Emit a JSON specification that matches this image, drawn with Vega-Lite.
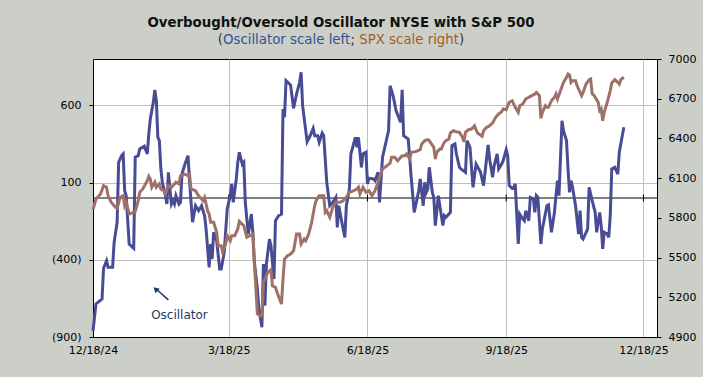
{
  "$schema": "https://vega.github.io/schema/vega-lite/v6.json",
  "width": 564,
  "height": 278,
  "autosize": {"type": "none"},
  "padding": {"left": 93, "top": 59, "right": 46, "bottom": 40},
  "background": "#cbcfc8",
  "config": {
    "font": "DejaVu Sans",
    "view": {"stroke": "#000000", "strokeWidth": 1, "fill": "#ffffff"},
    "axis": {"labelFont": "DejaVu Sans", "labelColor": "#000000", "labelFontSize": 11, "domainColor": "#000000", "tickColor": "#000000", "gridColor": "#c0c0c0", "gridWidth": 1, "title": null}
  },
  "datasets": {
    "zt": [{"date": "2025-03-18"}, {"date": "2025-06-18"}, {"date": "2025-09-18"}, {"date": "2025-12-18"}],
    "osc": [
      {"date":"2024-12-18","value":-860},{"date":"2024-12-20","value":-686},{"date":"2024-12-24","value":-654},{"date":"2024-12-25","value":-455},{"date":"2024-12-27","value":-406},{"date":"2024-12-28","value":-449},{"date":"2024-12-31","value":-449},
      {"date":"2025-01-01","value":-287},{"date":"2025-01-03","value":-157},{"date":"2025-01-04","value":231},{"date":"2025-01-06","value":274},{"date":"2025-01-07","value":285},{"date":"2025-01-08","value":47},{"date":"2025-01-09","value":15},{"date":"2025-01-11","value":-298},{"date":"2025-01-14","value":-326},{"date":"2025-01-15","value":264},{"date":"2025-01-17","value":274},{"date":"2025-01-18","value":317},{"date":"2025-01-21","value":335},{"date":"2025-01-23","value":285},{"date":"2025-01-24","value":414},{"date":"2025-01-25","value":511},{"date":"2025-01-27","value":620},{"date":"2025-01-28","value":699},{"date":"2025-01-29","value":630},{"date":"2025-01-30","value":393},{"date":"2025-01-31","value":371},
      {"date":"2025-02-01","value":188},{"date":"2025-02-02","value":102},{"date":"2025-02-04","value":15},{"date":"2025-02-05","value":-39},{"date":"2025-02-06","value":166},{"date":"2025-02-07","value":58},{"date":"2025-02-08","value":-39},{"date":"2025-02-09","value":-17},{"date":"2025-02-10","value":-39},{"date":"2025-02-11","value":15},{"date":"2025-02-13","value":-39},{"date":"2025-02-14","value":-28},{"date":"2025-02-15","value":155},{"date":"2025-02-17","value":220},{"date":"2025-02-19","value":274},{"date":"2025-02-20","value":112},{"date":"2025-02-22","value":-157},{"date":"2025-02-24","value":-50},{"date":"2025-02-26","value":-82},{"date":"2025-02-28","value":-50},
      {"date":"2025-03-02","value":-115},{"date":"2025-03-03","value":-201},{"date":"2025-03-05","value":-449},{"date":"2025-03-06","value":-298},{"date":"2025-03-07","value":-395},{"date":"2025-03-08","value":-222},{"date":"2025-03-10","value":-276},{"date":"2025-03-12","value":-460},{"date":"2025-03-13","value":-460},{"date":"2025-03-15","value":-352},{"date":"2025-03-17","value":-71},{"date":"2025-03-19","value":15},{"date":"2025-03-20","value":91},{"date":"2025-03-21","value":-28},{"date":"2025-03-23","value":123},{"date":"2025-03-24","value":231},{"date":"2025-03-25","value":296},{"date":"2025-03-27","value":220},{"date":"2025-03-28","value":231},{"date":"2025-03-29","value":-28},{"date":"2025-03-30","value":-136},{"date":"2025-03-31","value":-233},
      {"date":"2025-04-02","value":-104},{"date":"2025-04-03","value":-222},{"date":"2025-04-04","value":-416},{"date":"2025-04-06","value":-589},{"date":"2025-04-07","value":-719},{"date":"2025-04-09","value":-837},{"date":"2025-04-10","value":-427},{"date":"2025-04-11","value":-697},{"date":"2025-04-12","value":-427},{"date":"2025-04-14","value":-266},{"date":"2025-04-15","value":-309},{"date":"2025-04-17","value":-525},{"date":"2025-04-18","value":-147},{"date":"2025-04-20","value":-115},{"date":"2025-04-22","value":-104},{"date":"2025-04-23","value":576},{"date":"2025-04-24","value":523},{"date":"2025-04-25","value":760},{"date":"2025-04-28","value":732},{"date":"2025-04-30","value":581},
      {"date":"2025-05-02","value":673},{"date":"2025-05-04","value":749},{"date":"2025-05-05","value":814},{"date":"2025-05-06","value":598},{"date":"2025-05-09","value":365},{"date":"2025-05-11","value":403},{"date":"2025-05-13","value":451},{"date":"2025-05-14","value":403},{"date":"2025-05-16","value":403},{"date":"2025-05-17","value":361},{"date":"2025-05-19","value":421},{"date":"2025-05-20","value":403},{"date":"2025-05-22","value":102},{"date":"2025-05-24","value":-50},{"date":"2025-05-26","value":-28},{"date":"2025-05-28","value":4},{"date":"2025-05-29","value":-190},{"date":"2025-05-30","value":-50},
      {"date":"2025-06-01","value":-157},{"date":"2025-06-03","value":-255},{"date":"2025-06-04","value":-50},{"date":"2025-06-06","value":58},{"date":"2025-06-07","value":285},{"date":"2025-06-10","value":393},{"date":"2025-06-11","value":328},{"date":"2025-06-12","value":393},{"date":"2025-06-14","value":199},{"date":"2025-06-15","value":285},{"date":"2025-06-17","value":296},{"date":"2025-06-18","value":91},{"date":"2025-06-19","value":128},{"date":"2025-06-22","value":123},{"date":"2025-06-23","value":112},{"date":"2025-06-25","value":166},{"date":"2025-06-26","value":-28},{"date":"2025-06-28","value":264},
      {"date":"2025-07-02","value":436},{"date":"2025-07-03","value":727},{"date":"2025-07-05","value":662},{"date":"2025-07-07","value":565},{"date":"2025-07-10","value":490},{"date":"2025-07-11","value":701},{"date":"2025-07-12","value":403},{"date":"2025-07-15","value":382},{"date":"2025-07-16","value":264},{"date":"2025-07-17","value":134},{"date":"2025-07-19","value":-93},{"date":"2025-07-22","value":47},{"date":"2025-07-23","value":123},{"date":"2025-07-25","value":-50},{"date":"2025-07-26","value":102},{"date":"2025-07-27","value":37},{"date":"2025-07-28","value":58},{"date":"2025-07-29","value":199},{"date":"2025-07-31","value":37},
      {"date":"2025-08-01","value":4},{"date":"2025-08-02","value":-179},{"date":"2025-08-04","value":15},{"date":"2025-08-07","value":-179},{"date":"2025-08-08","value":-115},{"date":"2025-08-09","value":-125},{"date":"2025-08-12","value":-93},{"date":"2025-08-13","value":339},{"date":"2025-08-15","value":350},{"date":"2025-08-16","value":285},{"date":"2025-08-18","value":199},{"date":"2025-08-19","value":188},{"date":"2025-08-22","value":166},{"date":"2025-08-23","value":371},{"date":"2025-08-25","value":328},{"date":"2025-08-27","value":69},{"date":"2025-08-29","value":220},
      {"date":"2025-09-01","value":166},{"date":"2025-09-03","value":80},{"date":"2025-09-06","value":343},{"date":"2025-09-07","value":253},{"date":"2025-09-09","value":134},{"date":"2025-09-10","value":209},{"date":"2025-09-12","value":285},{"date":"2025-09-13","value":188},{"date":"2025-09-15","value":220},{"date":"2025-09-16","value":242},{"date":"2025-09-18","value":313},{"date":"2025-09-19","value":274},{"date":"2025-09-20","value":80},{"date":"2025-09-22","value":63},{"date":"2025-09-23","value":69},{"date":"2025-09-24","value":91},{"date":"2025-09-26","value":-298},{"date":"2025-09-27","value":-104},{"date":"2025-09-29","value":-136},{"date":"2025-09-30","value":-147},
      {"date":"2025-10-01","value":-82},{"date":"2025-10-03","value":-147},{"date":"2025-10-04","value":4},{"date":"2025-10-06","value":-6},{"date":"2025-10-07","value":-93},{"date":"2025-10-08","value":15},{"date":"2025-10-09","value":4},{"date":"2025-10-11","value":-298},{"date":"2025-10-12","value":-201},{"date":"2025-10-15","value":-50},{"date":"2025-10-16","value":-45},{"date":"2025-10-18","value":-222},{"date":"2025-10-20","value":-93},{"date":"2025-10-21","value":15},{"date":"2025-10-22","value":112},{"date":"2025-10-23","value":15},{"date":"2025-10-25","value":500},{"date":"2025-10-26","value":436},{"date":"2025-10-28","value":371},{"date":"2025-10-29","value":188},{"date":"2025-10-30","value":37},{"date":"2025-10-31","value":112},
      {"date":"2025-11-01","value":69},{"date":"2025-11-03","value":-50},{"date":"2025-11-05","value":-233},{"date":"2025-11-06","value":-82},{"date":"2025-11-07","value":-255},{"date":"2025-11-08","value":-266},{"date":"2025-11-10","value":-222},{"date":"2025-11-11","value":-201},{"date":"2025-11-12","value":69},{"date":"2025-11-14","value":-17},{"date":"2025-11-16","value":-93},{"date":"2025-11-17","value":-222},{"date":"2025-11-19","value":-93},{"date":"2025-11-20","value":-179},{"date":"2025-11-21","value":-330},{"date":"2025-11-22","value":-222},{"date":"2025-11-24","value":-233},{"date":"2025-11-25","value":-255},{"date":"2025-11-26","value":-115},{"date":"2025-11-27","value":188},{"date":"2025-11-29","value":199},
      {"date":"2025-12-01","value":155},{"date":"2025-12-02","value":296},{"date":"2025-12-05","value":458}
    ],
    "spx": [
      {"date":"2024-12-18","value":5862},{"date":"2024-12-20","value":5942},{"date":"2024-12-23","value":5980},{"date":"2024-12-25","value":6043},{"date":"2024-12-27","value":6031},{"date":"2024-12-28","value":5967},{"date":"2024-12-30","value":5918},
      {"date":"2025-01-02","value":5880},{"date":"2025-01-03","value":5872},{"date":"2025-01-05","value":5955},{"date":"2025-01-07","value":5967},{"date":"2025-01-08","value":5892},{"date":"2025-01-09","value":5918},{"date":"2025-01-11","value":5829},{"date":"2025-01-14","value":5842},{"date":"2025-01-15","value":5847},{"date":"2025-01-17","value":5930},{"date":"2025-01-18","value":5993},{"date":"2025-01-20","value":6018},{"date":"2025-01-23","value":6081},{"date":"2025-01-24","value":6114},{"date":"2025-01-25","value":6094},{"date":"2025-01-26","value":6031},{"date":"2025-01-28","value":6069},{"date":"2025-01-29","value":6031},{"date":"2025-01-31","value":6056},
      {"date":"2025-02-01","value":6018},{"date":"2025-02-03","value":6005},{"date":"2025-02-04","value":5980},{"date":"2025-02-06","value":6043},{"date":"2025-02-08","value":6031},{"date":"2025-02-10","value":6056},{"date":"2025-02-11","value":6069},{"date":"2025-02-13","value":6056},{"date":"2025-02-14","value":6118},{"date":"2025-02-17","value":6131},{"date":"2025-02-19","value":6118},{"date":"2025-02-20","value":6131},{"date":"2025-02-21","value":6018},{"date":"2025-02-24","value":6005},{"date":"2025-02-26","value":5967},{"date":"2025-02-28","value":5942},
      {"date":"2025-03-01","value":5930},{"date":"2025-03-02","value":5955},{"date":"2025-03-04","value":5854},{"date":"2025-03-05","value":5829},{"date":"2025-03-06","value":5766},{"date":"2025-03-08","value":5766},{"date":"2025-03-10","value":5691},{"date":"2025-03-11","value":5590},{"date":"2025-03-13","value":5590},{"date":"2025-03-14","value":5540},{"date":"2025-03-16","value":5603},{"date":"2025-03-17","value":5665},{"date":"2025-03-19","value":5627},{"date":"2025-03-20","value":5665},{"date":"2025-03-22","value":5665},{"date":"2025-03-24","value":5716},{"date":"2025-03-25","value":5774},{"date":"2025-03-28","value":5741},{"date":"2025-03-30","value":5653},
      {"date":"2025-04-01","value":5665},{"date":"2025-04-03","value":5678},{"date":"2025-04-04","value":5464},{"date":"2025-04-06","value":5074},{"date":"2025-04-08","value":5061},{"date":"2025-04-09","value":5061},{"date":"2025-04-10","value":5313},{"date":"2025-04-12","value":5363},{"date":"2025-04-13","value":5389},{"date":"2025-04-15","value":5408},{"date":"2025-04-16","value":5287},{"date":"2025-04-18","value":5275},{"date":"2025-04-19","value":5238},{"date":"2025-04-22","value":5149},{"date":"2025-04-23","value":5338},{"date":"2025-04-24","value":5489},{"date":"2025-04-26","value":5514},{"date":"2025-04-28","value":5527},{"date":"2025-04-30","value":5552},
      {"date":"2025-05-02","value":5678},{"date":"2025-05-04","value":5678},{"date":"2025-05-05","value":5603},{"date":"2025-05-07","value":5640},{"date":"2025-05-08","value":5627},{"date":"2025-05-10","value":5678},{"date":"2025-05-12","value":5766},{"date":"2025-05-14","value":5892},{"date":"2025-05-15","value":5930},{"date":"2025-05-17","value":5967},{"date":"2025-05-20","value":5967},{"date":"2025-05-21","value":5842},{"date":"2025-05-22","value":5854},{"date":"2025-05-24","value":5804},{"date":"2025-05-26","value":5880},{"date":"2025-05-28","value":5918},{"date":"2025-05-31","value":5918},
      {"date":"2025-06-02","value":5930},{"date":"2025-06-04","value":5955},{"date":"2025-06-06","value":5993},{"date":"2025-06-09","value":6005},{"date":"2025-06-11","value":6018},{"date":"2025-06-12","value":6031},{"date":"2025-06-13","value":5980},{"date":"2025-06-15","value":6031},{"date":"2025-06-17","value":5993},{"date":"2025-06-19","value":6005},{"date":"2025-06-21","value":5967},{"date":"2025-06-23","value":6005},{"date":"2025-06-25","value":6069},{"date":"2025-06-27","value":6144},{"date":"2025-06-28","value":6169},
      {"date":"2025-07-01","value":6194},{"date":"2025-07-03","value":6214},{"date":"2025-07-04","value":6257},{"date":"2025-07-06","value":6257},{"date":"2025-07-08","value":6232},{"date":"2025-07-11","value":6270},{"date":"2025-07-13","value":6270},{"date":"2025-07-14","value":6282},{"date":"2025-07-16","value":6245},{"date":"2025-07-17","value":6295},{"date":"2025-07-20","value":6300},{"date":"2025-07-23","value":6315},{"date":"2025-07-24","value":6358},{"date":"2025-07-26","value":6383},{"date":"2025-07-28","value":6390},{"date":"2025-07-29","value":6383},
      {"date":"2025-08-01","value":6333},{"date":"2025-08-02","value":6245},{"date":"2025-08-03","value":6295},{"date":"2025-08-05","value":6320},{"date":"2025-08-06","value":6320},{"date":"2025-08-07","value":6350},{"date":"2025-08-08","value":6371},{"date":"2025-08-09","value":6383},{"date":"2025-08-11","value":6396},{"date":"2025-08-12","value":6441},{"date":"2025-08-14","value":6458},{"date":"2025-08-16","value":6451},{"date":"2025-08-18","value":6446},{"date":"2025-08-20","value":6409},{"date":"2025-08-21","value":6375},{"date":"2025-08-22","value":6446},{"date":"2025-08-24","value":6466},{"date":"2025-08-26","value":6471},{"date":"2025-08-28","value":6496},{"date":"2025-08-29","value":6466},{"date":"2025-08-30","value":6441},
      {"date":"2025-09-02","value":6416},{"date":"2025-09-03","value":6458},{"date":"2025-09-05","value":6484},{"date":"2025-09-07","value":6496},{"date":"2025-09-09","value":6517},{"date":"2025-09-11","value":6560},{"date":"2025-09-13","value":6585},{"date":"2025-09-15","value":6602},{"date":"2025-09-16","value":6622},{"date":"2025-09-18","value":6617},{"date":"2025-09-19","value":6647},{"date":"2025-09-20","value":6673},{"date":"2025-09-22","value":6685},{"date":"2025-09-24","value":6635},{"date":"2025-09-26","value":6597},{"date":"2025-09-27","value":6647},{"date":"2025-09-29","value":6660},
      {"date":"2025-10-01","value":6698},{"date":"2025-10-03","value":6711},{"date":"2025-10-05","value":6723},{"date":"2025-10-07","value":6736},{"date":"2025-10-08","value":6748},{"date":"2025-10-10","value":6723},{"date":"2025-10-11","value":6552},{"date":"2025-10-12","value":6597},{"date":"2025-10-14","value":6647},{"date":"2025-10-15","value":6635},{"date":"2025-10-16","value":6635},{"date":"2025-10-18","value":6685},{"date":"2025-10-20","value":6711},{"date":"2025-10-21","value":6736},{"date":"2025-10-22","value":6698},{"date":"2025-10-24","value":6761},{"date":"2025-10-26","value":6824},{"date":"2025-10-28","value":6862},{"date":"2025-10-29","value":6887},{"date":"2025-10-30","value":6879},{"date":"2025-10-31","value":6824},
      {"date":"2025-11-01","value":6836},{"date":"2025-11-03","value":6836},{"date":"2025-11-04","value":6798},{"date":"2025-11-05","value":6773},{"date":"2025-11-07","value":6723},{"date":"2025-11-08","value":6748},{"date":"2025-11-10","value":6811},{"date":"2025-11-12","value":6844},{"date":"2025-11-13","value":6849},{"date":"2025-11-14","value":6736},{"date":"2025-11-15","value":6728},{"date":"2025-11-16","value":6711},{"date":"2025-11-18","value":6673},{"date":"2025-11-19","value":6609},{"date":"2025-11-20","value":6622},{"date":"2025-11-21","value":6534},{"date":"2025-11-22","value":6597},{"date":"2025-11-24","value":6673},{"date":"2025-11-26","value":6761},{"date":"2025-11-27","value":6819},{"date":"2025-11-29","value":6844},
      {"date":"2025-12-01","value":6824},{"date":"2025-12-02","value":6811},{"date":"2025-12-03","value":6844},{"date":"2025-12-05","value":6862}
    ]
  },
  "layer": [
    {
      "layer": [
        {
          "data": {"values": [{}]},
          "mark": {"type": "rule", "color": "#000000", "strokeWidth": 1},
          "encoding": {"y": {"datum": 0}}
        },
        {
          "data": {"name": "zt"},
          "mark": {"type": "rule", "color": "#000000", "strokeWidth": 1},
          "encoding": {"x": {"field": "date", "type": "temporal"}, "y": {"datum": -23}, "y2": {"datum": 23}}
        },
        {
          "data": {"name": "osc"},
          "mark": {"type": "line", "color": "#484c94", "strokeWidth": 3},
          "encoding": {
            "x": {
              "field": "date", "type": "temporal",
              "scale": {"domain": [{"year": 2024, "month": 12, "date": 18}, {"year": 2025, "month": 12, "date": 27}], "nice": false},
              "axis": {
                "values": [{"year": 2024, "month": 12, "date": 18}, {"year": 2025, "month": 3, "date": 18}, {"year": 2025, "month": 6, "date": 18}, {"year": 2025, "month": 9, "date": 18}, {"year": 2025, "month": 12, "date": 18}],
                "format": "%-m/%d/%y", "ticks": false, "labelPadding": 7, "grid": true, "title": null, "labelFlush": false, "labelOverlap": false
              }
            },
            "y": {
              "field": "value", "type": "quantitative",
              "scale": {"domain": [-900, 900], "nice": false, "zero": false},
              "axis": {
                "orient": "left", "values": [-900, -400, 100, 600],
                "labelExpr": "datum.value < 0 ? '(' + format(-datum.value, 'd') + ')' : format(datum.value, 'd')",
                "tickSize": 4, "labelPadding": 8, "grid": true, "title": null
              }
            }
          }
        },
        {
          "data": {"values": [{}]},
          "mark": {"type": "rule", "color": "#1f3864", "strokeWidth": 1.5},
          "encoding": {
            "x": {"datum": {"year": 2025, "month": 2, "date": 6}},
            "y": {"datum": -660},
            "x2": {"datum": {"year": 2025, "month": 1, "date": 28, "hours": 6}},
            "y2": {"datum": -584}
          }
        },
        {
          "data": {"values": [{}]},
          "mark": {"type": "point", "shape": "triangle-up", "filled": true, "color": "#1f3864", "size": 40, "angle": 313, "opacity": 1},
          "encoding": {
            "x": {"datum": {"year": 2025, "month": 1, "date": 28, "hours": 12}},
            "y": {"datum": -590}
          }
        },
        {
          "data": {"values": [{}]},
          "mark": {"type": "text", "text": "Oscillator", "font": "DejaVu Sans", "fontSize": 12, "color": "#1f3864", "align": "center", "baseline": "middle"},
          "encoding": {"x": {"datum": {"year": 2025, "month": 2, "date": 13, "hours": 8}}, "y": {"datum": -760}}
        },
        {
          "data": {"values": [{}]},
          "mark": {"type": "text", "text": "Overbought/Oversold Oscillator NYSE with S&P 500", "font": "DejaVu Sans", "fontSize": 13.33, "fontWeight": "bold", "color": "#111111", "align": "center", "baseline": "alphabetic"},
          "encoding": {"x": {"datum": {"year": 2025, "month": 5, "date": 31, "hours": 10}}, "y": {"datum": 1104}}
        },
        {
          "data": {"values": [{}]},
          "mark": {"type": "text", "text": "(", "font": "DejaVu Sans", "fontSize": 13.33, "color": "#333333", "align": "right", "baseline": "alphabetic", "dx": -118},
          "encoding": {"x": {"datum": {"year": 2025, "month": 5, "date": 31, "hours": 10}}, "y": {"datum": 997}}
        },
        {
          "data": {"values": [{}]},
          "mark": {"type": "text", "text": "Oscillator scale left", "font": "DejaVu Sans", "fontSize": 13.33, "color": "#2f5496", "align": "left", "baseline": "alphabetic", "dx": -118},
          "encoding": {"x": {"datum": {"year": 2025, "month": 5, "date": 31, "hours": 10}}, "y": {"datum": 997}}
        },
        {
          "data": {"values": [{}]},
          "mark": {"type": "text", "text": ";", "font": "DejaVu Sans", "fontSize": 13.33, "color": "#333333", "align": "left", "baseline": "alphabetic", "dx": 9.5},
          "encoding": {"x": {"datum": {"year": 2025, "month": 5, "date": 31, "hours": 10}}, "y": {"datum": 997}}
        },
        {
          "data": {"values": [{}]},
          "mark": {"type": "text", "text": "SPX scale right", "font": "DejaVu Sans", "fontSize": 13.33, "color": "#aa5a28", "align": "left", "baseline": "alphabetic", "dx": 18.3},
          "encoding": {"x": {"datum": {"year": 2025, "month": 5, "date": 31, "hours": 10}}, "y": {"datum": 997}}
        },
        {
          "data": {"values": [{}]},
          "mark": {"type": "text", "text": ")", "font": "DejaVu Sans", "fontSize": 13.33, "color": "#333333", "align": "left", "baseline": "alphabetic", "dx": 118},
          "encoding": {"x": {"datum": {"year": 2025, "month": 5, "date": 31, "hours": 10}}, "y": {"datum": 997}}
        }
      ]
    },
    {
      "data": {"name": "spx"},
      "mark": {"type": "line", "color": "#9e7068", "strokeWidth": 3},
      "encoding": {
        "x": {
          "field": "date", "type": "temporal",
          "scale": {"domain": [{"year": 2024, "month": 12, "date": 18}, {"year": 2025, "month": 12, "date": 27}], "nice": false}
        },
        "y": {
          "field": "value", "type": "quantitative",
          "scale": {"domain": [4900, 7000], "nice": false, "zero": false},
          "axis": {"orient": "right", "values": [4900, 5200, 5500, 5800, 6100, 6400, 6700, 7000], "format": "d", "tickSize": 4, "labelPadding": 7, "grid": false, "title": null}
        }
      }
    }
  ],
  "resolve": {"scale": {"y": "independent"}}
}
